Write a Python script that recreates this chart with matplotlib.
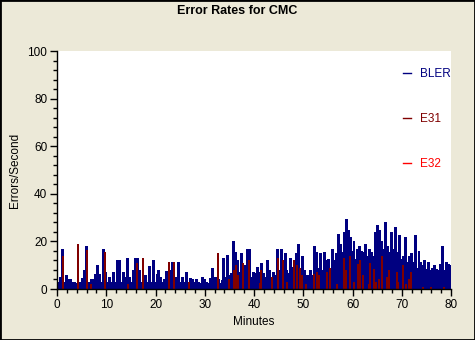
import matplotlib
matplotlib.use("Agg")
import matplotlib.pyplot as plt
from matplotlib.lines import Line2D
from matplotlib.patches import Rectangle
from matplotlib.ticker import MultipleLocator
import numpy as np

plt.rcParams['font.family'] = ['Liberation Sans', 'DejaVu Sans']

TITLE = "Error Rates for CMC"
XLABEL = "Minutes"
YLABEL = "Errors/Second"
SERIES = ["BLER", "E31", "E32"]
COLORS = ["#000080", "#800000", "#FF0000"]

STEP = 0.4  # minutes per BLER sample
bler = [
    # 0-16 min
    3, 5, 17, 3, 6, 4, 4, 3, 3, 2.5, 3, 3, 4.5, 8, 18, 3, 2.5, 4, 4, 6.5,
    10, 6.5, 3, 17, 7, 3, 5, 3, 7, 3, 12, 12, 3, 7, 5, 13, 5, 3, 8, 13,
    # 16-32 min
    13, 8, 3, 3, 6, 3, 9.7, 3, 12, 3, 6.5, 8, 5, 3, 4, 7.7, 5, 8, 11.5, 3,
    5, 11.5, 3, 5, 3, 7, 3, 4.5, 4, 3, 4, 3, 2.7, 5, 4, 3, 2.5, 4.5, 8.7, 5,
    # 32-48 min
    5.2, 4, 2.4, 3.8, 12.9, 5.2, 14.3, 5.9, 6.6, 20, 15.7, 12, 7.3, 15, 9.4, 10, 16.7, 16.7, 5.2, 7.3,
    6.6, 9.4, 7.3, 10.8, 6.6, 5.2, 12, 8, 5.2, 7.3, 5.9, 16.7, 8, 17, 8.7, 15, 8, 6.6, 12.9, 9.4,
    # 48-64 min
    7, 15, 19, 9, 14, 8, 5.7, 5.7, 8, 5.7, 18, 15.5, 9, 15, 8, 15.5, 12, 12.7, 8.5, 17,
    12, 15, 23, 19, 15.5, 24, 29.5, 25, 22, 16, 20, 12.7, 17, 18, 16, 15.5, 19, 14, 17, 15.5,
    # 64-80 min
    14, 24, 26.7, 24.6, 20, 17, 28, 18, 15.5, 24, 17, 26, 15.5, 22.5, 12.7, 14, 22, 11.3, 14, 15,
    11.3, 22.5, 9, 16, 11.3, 10, 12, 8.5, 11.3, 8, 9, 10, 8.5, 8, 10.6, 18, 8, 11.3, 10.6, 10,
]

e31_min = [1.1, 4.2, 6.0, 6.9, 9.6, 14.3, 16.2, 17.3, 22.6, 23.6,
           26.7, 32.5, 34.9, 35.9, 36.3, 36.6, 37.6, 38.8, 41.2, 41.4,
           43.6, 44.8, 45.8, 46.6, 48.0, 48.7, 49.3, 49.6, 50.4, 52.1,
           52.6, 53.0, 54.8, 55.4, 56.8, 58.1, 58.6, 59.3, 60.2, 61.0,
           61.5, 62.0, 63.2, 63.4, 64.2, 64.7, 65.2, 65.9, 66.9, 67.3,
           68.9, 69.1, 70.2, 70.7, 71.3, 71.7, 74.3, 75.9, 78.5]
e31_val = [14, 19, 16.5, 2, 15.5, 2, 11, 13, 11.5, 11.5,
           3, 15, 4, 8, 10, 6, 11, 12, 2.5, 8,
           5, 13, 12, 3, 12, 10, 9, 6, 2, 6.5,
           7, 6, 7, 8.7, 2, 13, 8, 14, 3, 10.6,
           12, 5.7, 2, 11, 8.5, 3, 4, 14, 5, 8,
           7, 3, 10, 2, 4, 7, 1, 1, 1]

e32_min = []
e32_val = []

XMAX = 80
YMAX = 100

fig = plt.figure(figsize=(4.75, 3.4), dpi=100, facecolor="#ECE9D8")
ax = fig.add_axes([57/475, 51/340, 394/475, 238/340])
ax.set_facecolor("white")

bler_x = np.arange(len(bler)) * STEP
ax.bar(bler_x, bler, width=STEP, align='edge', color=COLORS[0],
       edgecolor=COLORS[0], linewidth=0.4, antialiased=False)
ax.bar(e31_min, e31_val, width=0.2, align='center', color=COLORS[1],
       edgecolor=COLORS[1], linewidth=0.6, antialiased=False)
if e32_min:
    ax.bar(e32_min, e32_val, width=0.2, align='center', color=COLORS[2],
           edgecolor=COLORS[2], linewidth=0.6, antialiased=False)

ax.set_xlim(0, XMAX)
ax.set_ylim(0, YMAX)
for s in ['top', 'right']:
    ax.spines[s].set_visible(False)
for s in ['left', 'bottom']:
    ax.spines[s].set_linewidth(1)
    ax.spines[s].set_color('black')

ax.xaxis.set_major_locator(MultipleLocator(10))
ax.xaxis.set_minor_locator(MultipleLocator(2))
ax.yaxis.set_major_locator(MultipleLocator(20))
ax.yaxis.set_minor_locator(MultipleLocator(4))
ax.tick_params(which='major', length=5, width=1, direction='out', labelsize=8.5, pad=2)
ax.tick_params(which='minor', length=3, width=1, direction='out')

fig.text(0.5, 1 - 11/340, TITLE, ha='center', va='center', fontsize=9, fontweight='bold')
fig.text(15/475, 1 - 170/340, YLABEL, ha='center', va='center', rotation=90, fontsize=8.5)
fig.text(254/475, 1 - 322/340, XLABEL, ha='center', va='center', fontsize=8.5)

handles = [Line2D([], [], color=c, lw=1) for c in COLORS]
leg = ax.legend(handles, SERIES, loc='upper left', bbox_to_anchor=((403-57)/394, 1 - (68-51)/238),
                frameon=False, fontsize=8.5, handlelength=0.7, handletextpad=0.7,
                labelspacing=2.8, borderpad=0, borderaxespad=0, labelcolor='linecolor')

fig.patches.append(Rectangle((0, 0), 1, 1, transform=fig.transFigure, fill=False,
                             edgecolor='black', linewidth=2))

fig.savefig("out.png", dpi=100, facecolor=fig.get_facecolor())
